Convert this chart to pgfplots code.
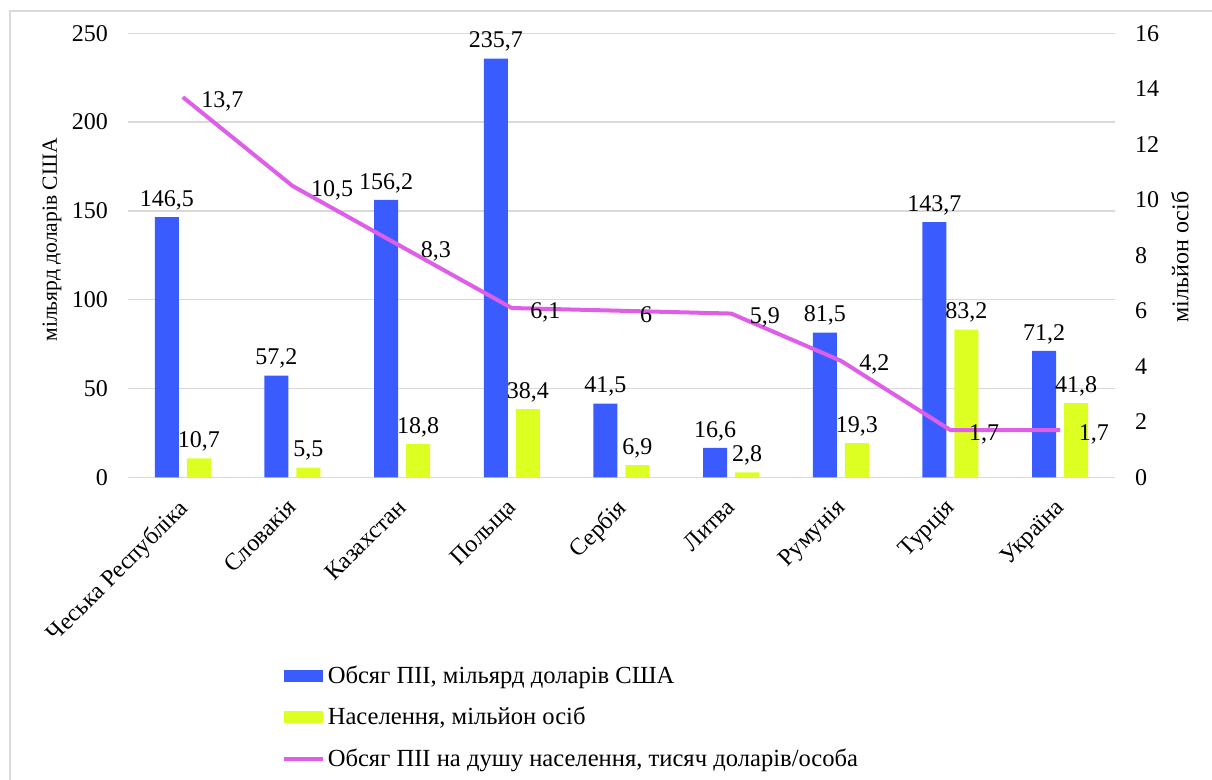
\documentclass[border=0pt]{standalone}
\usepackage{fontspec}
\setmainfont{Liberation Serif}
\usepackage{pgfplots}
\pgfplotsset{compat=1.18}
\definecolor{cblue}{RGB}{58,92,255}
\definecolor{cyel}{RGB}{221,255,34}
\definecolor{cmag}{RGB}{222,94,232}
\definecolor{cgrid}{RGB}{217,217,217}
\pgfplotsset{
  /pgf/number format/.cd, use comma, 1000 sep={}, assume math mode=true,
  /pgfplots/.cd,
  barleg/.style={legend image code/.code={\fill[##1] (0pt,-3pt) rectangle (19.5pt,3pt);}},
  lineleg/.style={legend image code/.code={\draw[##1] (0pt,0pt) -- (19.5pt,0pt);}},
}
\begin{document}
\begin{tikzpicture}[x=1pt,y=1pt, font=\fontsize{12}{14}\selectfont]
\draw[cgrid, line width=0.7pt] (5,-10) rectangle (620,384.5);
\begin{axis}[
  at={(64pt,151.35pt)}, anchor=south west,
  scale only axis, width=493.5pt, height=222pt,
  xmin=-0.5, xmax=8.5, ymin=0, ymax=250,
  ytick={0,50,...,250},
  xtick={0,...,8},
  xticklabels={Чеська Республіка, Словакія, Казахстан, Польща, Сербія, Литва, Румунія, Турція, Україна},
  ymajorgrids, grid style={cgrid, line width=0.7pt},
  axis line style={draw=none}, tick style={draw=none},
  ybar=4pt, bar width=12pt,
  nodes near coords,
  every node near coord/.append style={text=black, font=\fontsize{12}{14}\selectfont},
  ticklabel style={font=\fontsize{12}{14}\selectfont},
  xticklabel style={xshift=-3pt, yshift=-1pt, rotate=45, anchor=north east},
  yticklabel style={xshift=-6.5pt},
  legend style={at={(0.156,-0.418)}, anchor=north west, draw=none, fill=none, inner sep=0pt,
    row sep=8pt, font=\fontsize{12.3}{14}\selectfont, nodes={inner sep=1.2pt}},
  legend cell align=left,
]
\addplot[fill=cblue, draw=none, barleg]
  coordinates {(0,146.5) (1,57.2) (2,156.2) (3,235.7) (4,41.5) (5,16.6) (6,81.5) (7,143.7) (8,71.2)};
\addplot[fill=cyel, draw=none, barleg]
  coordinates {(0,10.7) (1,5.5) (2,18.8) (3,38.4) (4,6.9) (5,2.8) (6,19.3) (7,83.2) (8,41.8)};
\addlegendimage{cmag, line width=2pt, lineleg}
\legend{Обсяг ПІІ\hbox{,} мільярд доларів США, Населення\hbox{,} мільйон осіб, Обсяг ПІІ на душу населення\hbox{,} тисяч доларів/особа}
\end{axis}
\begin{axis}[
  at={(64pt,151.35pt)}, anchor=south west,
  scale only axis, width=493.5pt, height=222pt,
  xmin=-0.5, xmax=8.5, ymin=0, ymax=16,
  ytick={0,2,...,16},
  axis y line*=right, axis x line=none,
  y axis line style={draw=none}, tick style={draw=none},
  ticklabel style={font=\fontsize{12}{14}\selectfont},
  yticklabel style={xshift=6.5pt},
]
\addplot[cmag, line width=2pt, mark=none, nodes near coords,
  every node near coord/.append style={text=black, anchor=west, xshift=5pt, yshift=-2pt, font=\fontsize{12}{14}\selectfont}]
  coordinates {(0,13.7) (1,10.5) (2,8.3) (3,6.1) (4,6) (5,5.9) (6,4.2) (7,1.7) (8,1.7)};
\end{axis}
\node[rotate=90, font=\fontsize{10.8}{13}\selectfont] at (26,270) {мільярд доларів США};
\node[rotate=90] at (590,261.5) {мільйон осіб};
\pgfresetboundingbox
\path[use as bounding box] (0,0) rectangle (606,390);
\end{tikzpicture}
\end{document}
